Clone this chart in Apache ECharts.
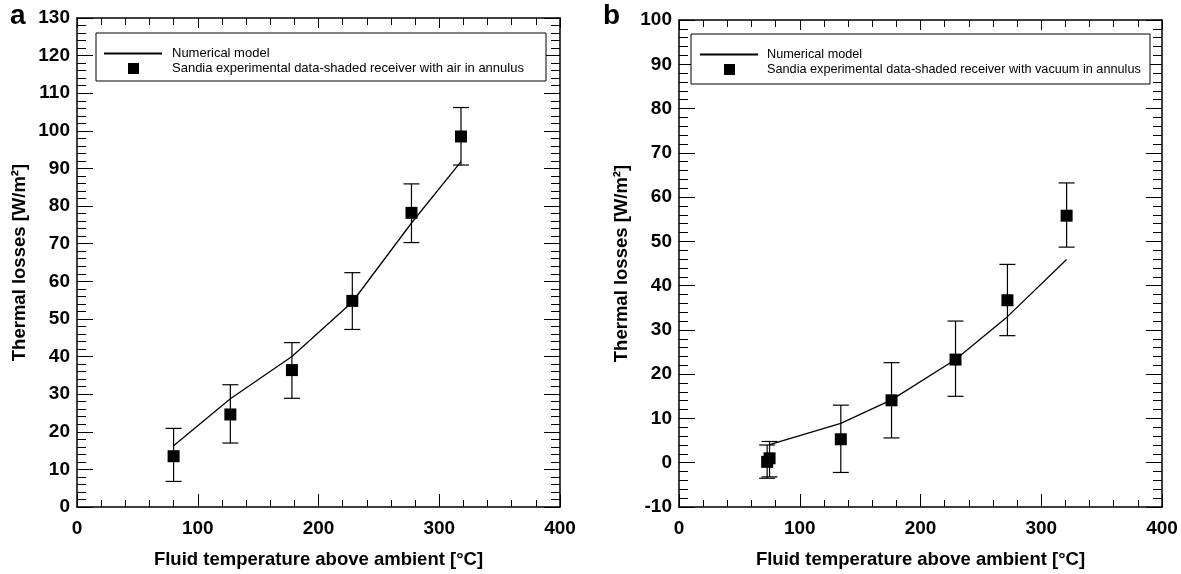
<!DOCTYPE html>
<html>
<head>
<meta charset="utf-8">
<script src="https://cdn.jsdelivr.net/npm/echarts@6/dist/echarts.min.js"></script>
<style>
  html, body { margin: 0; padding: 0; background: #fff; }
  #chart { width: 1181px; height: 574px; }
</style>
</head>
<body>
<div id="chart"></div>
<script>
// ---- data ----
// panel a: air in annulus
const tempA = [80, 127, 178, 228, 277, 318];
const lossA = [13.5, 24.6, 36.4, 54.8, 78.2, 98.5];
const lossA_lo = [6.8, 17.0, 28.9, 47.2, 70.3, 90.9];
const lossA_hi = [20.9, 32.5, 43.7, 62.3, 85.9, 106.2];
const modelTempA = [80, 127, 178, 228, 277, 318];
const modelLossA = [16.3, 28.8, 40.0, 54.5, 75.5, 91.8];

// panel b: vacuum in annulus
const tempB = [73, 75, 134, 176, 229, 272, 321];
const lossB = [0.2, 1.0, 5.3, 14.1, 23.3, 36.7, 55.8];
const lossB_lo = [-3.5, -3.2, -2.2, 5.6, 15.0, 28.7, 48.7];
const lossB_hi = [4.0, 4.8, 13.0, 22.6, 32.0, 44.8, 63.2];
const modelTempB = [75, 134, 176, 229, 272, 321];
const modelLossB = [4.1, 8.9, 14.2, 23.3, 33.0, 45.9];

const xTitle = 'Fluid temperature above ambient [°C]';
const yTitle = 'Thermal losses [W/m²]';
const legendLine = 'Numerical model';
const legendA = 'Sandia experimental data-shaded receiver with air in annulus';
const legendB = 'Sandia experimental data-shaded receiver with vacuum in annulus';

const FONT = '"Liberation Sans", Arial, Helvetica, sans-serif';

function zip(a, b) { return a.map((v, i) => [v, b[i]]); }
function zip3(a, b, c) { return a.map((v, i) => [v, b[i], c[i]]); }

function errorBars(params, api) {
  const x = api.value(0);
  const lo = api.coord([x, api.value(1)]);
  const hi = api.coord([x, api.value(2)]);
  const w = 8;
  const st = { stroke: '#000', lineWidth: 1.2 };
  return {
    type: 'group',
    children: [
      { type: 'line', shape: { x1: lo[0], y1: lo[1], x2: hi[0], y2: hi[1] }, style: st },
      { type: 'line', shape: { x1: hi[0] - w, y1: hi[1], x2: hi[0] + w, y2: hi[1] }, style: st },
      { type: 'line', shape: { x1: lo[0] - w, y1: lo[1], x2: lo[0] + w, y2: lo[1] }, style: st }
    ]
  };
}

// axis helpers
function xAx(grid, pos, labels) {
  return {
    type: 'value', gridIndex: grid, position: pos,
    min: 0, max: 400, interval: 100,
    axisLine: { show: true, onZero: false, lineStyle: { color: '#000', width: 1.5 } },
    axisTick: { show: true, inside: true, length: pos === 'bottom' ? 13 : 10, lineStyle: { color: '#000' } },
    minorTick: { show: true, splitNumber: 5, length: 7, lineStyle: { color: '#000' } },
    splitLine: { show: false },
    axisLabel: labels ? { show: true, margin: 12, color: '#000', fontSize: 19, fontWeight: 'bold', fontFamily: FONT } : { show: false },
    name: labels ? xTitle : '',
    nameLocation: 'middle', nameGap: 43,
    nameTextStyle: { color: '#000', fontSize: 18.5, fontWeight: 'bold', fontFamily: FONT }
  };
}
function yAx(grid, pos, min, max, labels) {
  return {
    type: 'value', gridIndex: grid, position: pos,
    min: min, max: max, interval: 10,
    axisLine: { show: true, onZero: false, lineStyle: { color: '#000', width: 1.5 } },
    axisTick: { show: true, inside: true, length: 16, lineStyle: { color: '#000' } },
    minorTick: { show: true, splitNumber: 5, length: 9, lineStyle: { color: '#000' } },
    splitLine: { show: false },
    axisLabel: labels ? { show: true, margin: 7, color: '#000', fontSize: 19, fontWeight: 'bold', fontFamily: FONT } : { show: false },
    name: labels ? yTitle : '',
    nameLocation: 'middle', nameRotate: 90, nameGap: 48,
    nameTextStyle: { color: '#000', fontSize: 18.5, fontWeight: 'bold', fontFamily: FONT }
  };
}

function legendBox(x, y, w, h, lineX, squareX, textX, label, fs) {
  return [
    { type: 'rect', shape: { x: x, y: y, width: w, height: h }, style: { fill: '#fff', stroke: '#000', lineWidth: 1 }, z: 100 },
    { type: 'line', shape: { x1: lineX, y1: y + 20.5, x2: lineX + 58, y2: y + 20.5 }, style: { stroke: '#000', lineWidth: 2 }, z: 101 },
    { type: 'rect', shape: { x: squareX, y: y + 30, width: 11, height: 11 }, style: { fill: '#000' }, z: 101 },
    { type: 'text', x: textX, y: y + 20, style: { text: legendLine, fill: '#000', font: fs + 'px ' + FONT, textVerticalAlign: 'middle' }, z: 101 },
    { type: 'text', x: textX, y: y + 35.5, style: { text: label, fill: '#000', font: fs + 'px ' + FONT, textVerticalAlign: 'middle' }, z: 101 }
  ];
}

const chart = echarts.init(document.getElementById('chart'), null, { renderer: 'canvas' });

const option = {
  backgroundColor: '#fff',
  animation: false,
  grid: [
    { left: 77, top: 18, width: 483, height: 495 },
    { left: 679, top: 20, width: 483, height: 495 }
  ],
  xAxis: [xAx(0, 'bottom', true), xAx(0, 'top', false), xAx(1, 'bottom', true), xAx(1, 'top', false)],
  yAxis: [yAx(0, 'left', 0, 130, true), yAx(0, 'right', 0, 130, false), yAx(1, 'left', -10, 100, true), yAx(1, 'right', -10, 100, false)],
  series: [
    {
      name: 'modelA', type: 'line', xAxisIndex: 0, yAxisIndex: 0,
      data: zip(modelTempA, modelLossA), showSymbol: false, symbol: 'none',
      lineStyle: { color: '#000', width: 1.3 }, z: 2
    },
    {
      name: 'errA', type: 'custom', xAxisIndex: 0, yAxisIndex: 0,
      data: zip3(tempA, lossA_lo, lossA_hi), renderItem: errorBars,
      encode: { x: 0, y: [1, 2] }, z: 3
    },
    {
      name: 'expA', type: 'scatter', xAxisIndex: 0, yAxisIndex: 0,
      data: zip(tempA, lossA), symbol: 'rect', symbolSize: 12,
      itemStyle: { color: '#000', opacity: 1 }, z: 4
    },
    {
      name: 'modelB', type: 'line', xAxisIndex: 2, yAxisIndex: 2,
      data: zip(modelTempB, modelLossB), showSymbol: false, symbol: 'none',
      lineStyle: { color: '#000', width: 1.3 }, z: 2
    },
    {
      name: 'errB', type: 'custom', xAxisIndex: 2, yAxisIndex: 2,
      data: zip3(tempB, lossB_lo, lossB_hi), renderItem: errorBars,
      encode: { x: 0, y: [1, 2] }, z: 3
    },
    {
      name: 'expB', type: 'scatter', xAxisIndex: 2, yAxisIndex: 2,
      data: zip(tempB, lossB), symbol: 'rect', symbolSize: 12,
      itemStyle: { color: '#000', opacity: 1 }, z: 4
    }
  ],
  graphic: [
    { type: 'text', left: 10, top: 2, style: { text: 'a', fill: '#000', font: 'bold 28px ' + FONT } },
    { type: 'text', left: 603, top: 2, style: { text: 'b', fill: '#000', font: 'bold 28px ' + FONT } }
  ]
    .concat(legendBox(96, 33, 450, 48, 104, 128, 172, legendA, 13))
    .concat(legendBox(691, 34, 459, 50, 700, 724, 767, legendB, 12.7))
};

chart.setOption(option);
</script>
</body>
</html>
